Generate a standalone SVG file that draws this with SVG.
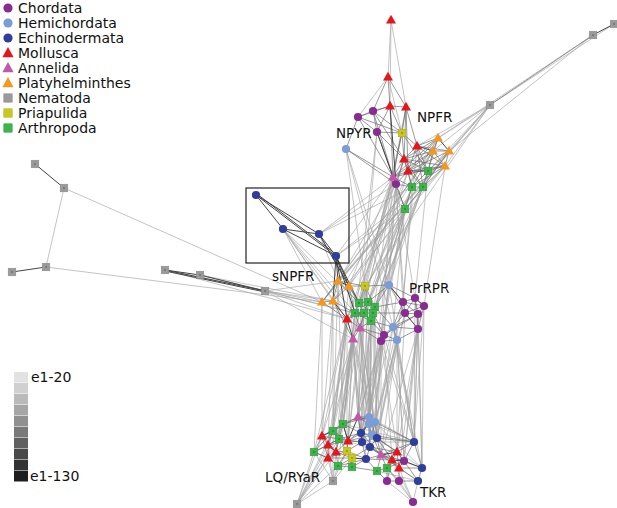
<svg xmlns="http://www.w3.org/2000/svg" xmlns:xlink="http://www.w3.org/1999/xlink" width="617" height="508" viewBox="0 0 617 508">
<style>
text{font-family:"DejaVu Sans","Liberation Sans",sans-serif;fill:#111}
.lg{font-size:14px}
.lb{font-size:13.5px}
.el{fill:none;stroke:#a2a2a2;stroke-width:0.8;stroke-opacity:0.8}
.em{fill:none;stroke:#6a6a6a;stroke-width:0.8;stroke-opacity:0.85}
.ed{fill:none;stroke:#444;stroke-width:1}
.cho{fill:#8a2b93}
.hem{fill:#7a9cd8}
.ech{fill:#2f3d9c}
.mol{fill:#e8141c}
.ann{fill:#c256a9}
.pla{fill:#f5961e}
.nem{fill:#9a9a9a;stroke:#888;stroke-width:0.5}
.pri{fill:#c9c81e;stroke:#aaa818;stroke-width:0.5}
.art{fill:#3db449;stroke:#2f9a3a;stroke-width:0.5}
</style>
<defs>
<circle id="cir" r="4.1"/>
<path id="tri" d="M0,-5.2L5,3.5L-5,3.5Z"/>
<g id="sq"><rect x="-3.8" y="-3.8" width="7.6" height="7.6"/><rect x="-0.7" y="-0.7" width="1.4" height="1.4" fill="#000" fill-opacity="0.4" stroke="none"/></g>
<circle id="ltc" r="4.6"/>
<path id="ltt" d="M0,-6L5.6,4.2L-5.6,4.2Z"/>
<rect id="lts" x="-4.2" y="-4.2" width="8.4" height="8.4"/>
</defs>
<rect width="617" height="508" fill="#fff"/>

<g id="legend">
<use href="#ltc" x="8" y="8" class="cho"/><text class="lg" x="18" y="13">Chordata</text>
<use href="#ltc" x="8" y="23" class="hem"/><text class="lg" x="18" y="28">Hemichordata</text>
<use href="#ltc" x="8" y="38" class="ech"/><text class="lg" x="18" y="43">Echinodermata</text>
<use href="#ltt" x="8" y="53" class="mol"/><text class="lg" x="18" y="58">Mollusca</text>
<use href="#ltt" x="8" y="68" class="ann"/><text class="lg" x="18" y="73">Annelida</text>
<use href="#ltt" x="8" y="83" class="pla"/><text class="lg" x="18" y="88">Platyhelminthes</text>
<use href="#lts" x="8" y="98" class="nem"/><text class="lg" x="18" y="103">Nematoda</text>
<use href="#lts" x="8" y="113" class="pri"/><text class="lg" x="18" y="118">Priapulida</text>
<use href="#lts" x="8" y="128" class="art"/><text class="lg" x="18" y="133">Arthropoda</text>
</g>

<g id="scale">
<rect x="14" y="372" width="14" height="10.5" fill="#e2e2e2"/>
<rect x="14" y="383" width="14" height="10.5" fill="#d0d0d0"/>
<rect x="14" y="394" width="14" height="10.5" fill="#bababa"/>
<rect x="14" y="405" width="14" height="10.5" fill="#a6a6a6"/>
<rect x="14" y="416" width="14" height="10.5" fill="#909090"/>
<rect x="14" y="427" width="14" height="10.5" fill="#797979"/>
<rect x="14" y="438" width="14" height="10.5" fill="#606060"/>
<rect x="14" y="449" width="14" height="10.5" fill="#494949"/>
<rect x="14" y="460" width="14" height="10.5" fill="#333"/>
<rect x="14" y="471" width="14" height="10.5" fill="#1e1e1e"/>
<text class="lg" x="31" y="382">e1-20</text>
<text class="lg" x="30" y="481">e1-130</text>
</g>

<g id="connectors">
<path class="el" d="M391 20L388 77M391 20L390 106M391 20L406 107M388 77L358 117M388 77L402 133M490 105L438 138M490 105L449 151M490 105L433 151M490 105L445 166M490 105L428 171M490 105L417 146M593 35L438 138M593 35L449 151M614 24L490 105M490 105L338 281M490 105L365 286M490 105L322 302M64 188L46 267M64 188L322 302M46 267L322 302M165 270L322 302M165 270L347 319M200 275L333 301M200 275L355 313M265 291L338 281M265 291L333 301M265 291L347 319M265 291L355 313M265 291L353 339M283 229L322 302M283 229L333 301M283 229L355 313M283 229L347 319M283 229L359 303M283 229L360 328M319 234L338 281M319 234L359 303M319 234L393 177M319 234L396 184M319 234L364 313M319 234L412 187M336 256L393 177M336 256L405 209M336 256L423 187M438 138L333 301M433 151L322 302M445 166L338 281M449 151L349 286M445 166L333 301M433 151L338 281M438 138L349 286M449 151L322 302M393 177L359 303M393 177L355 313M393 177L360 328M393 177L353 339M396 184L389 285M396 184L403 302M396 184L415 298M405 209L368 302M405 209L375 307M405 209L373 313M412 187L364 313M423 187L371 321M423 187L368 302M428 171L373 313M408 171L347 319M404 159L347 319M408 171L360 328M346 149L389 285M346 149L393 327M346 149L365 286M377 132L353 339M377 132L360 328M402 133L365 286M396 184L384 335M396 184L405 313M393 177L381 341M412 187L371 321M404 159L353 339M405 209L360 328M405 209L393 327M428 171L415 298M445 166L424 306M417 146L403 302M369 417L396 184M358 417L393 177M361 433L405 209M405 209L359 303M412 187L355 313M396 184L338 281M393 177L349 286M423 187L375 307M428 171L389 285M405 209L389 285M412 187L403 302M405 209L381 341"/>
<path class="el" d="M353 339L358 417M353 339L369 417M353 339L343 424M353 339L333 431M353 339L348 441M353 339L361 433M353 339L322 436M353 339L339 439M360 328L358 417M360 328L375 422M360 328L377 438M360 328L343 424M360 328L348 441M347 319L333 431M347 319L322 436M347 319L314 452M347 319L328 445M355 313L343 424M355 313L336 452M371 321L361 433M371 321L369 424M371 321L370 447M381 341L358 417M381 341L369 417M381 341L375 422M381 341L377 438M381 341L381 455M381 341L414 442M381 341L397 452M384 335L369 417M384 335L372 435M384 335L414 442M384 335L392 460M384 335L362 442M397 340L375 422M397 340L377 438M397 340L414 442M397 340L381 455M397 340L397 452M397 340L404 461M393 327L414 442M393 327L422 468M393 327L369 417M418 329L414 442M418 329L422 468M418 329L404 461M418 329L399 468M418 329L381 455M418 314L414 442M418 314L422 468M424 306L414 442M405 313L377 438M405 313L397 452M403 302L375 422M322 302L314 452M322 302L322 436M333 301L333 431M333 301L328 445M338 281L343 424M349 286L358 417M365 286L369 417M368 302L361 433M364 313L358 417M373 313L369 424M375 307L377 438M389 285L375 422M389 285L414 442M353 339L347 451M353 339L338 466M360 328L366 459M347 319L328 458M347 319L347 451M359 303L343 424M368 302L369 424M375 307L372 435M373 313L362 442M364 313L348 441M355 313L339 439M333 301L322 436M338 281L333 431M365 286L358 417M389 285L369 417M403 302L377 438M415 298L414 442M405 313L372 435M384 335L358 417M381 341L361 433M393 327L377 438M397 340L404 461M353 339L375 422M353 339L362 442M360 328L369 417M360 328L370 447M347 319L339 439M347 319L336 452M371 321L358 417M371 321L369 417M418 314L404 461M418 329L397 452M424 306L422 468M353 339L328 445M353 339L336 452M349 286L333 431M364 313L361 433M373 313L377 438"/>
<path class="el" d="M333 481L314 452M333 481L328 445M333 481L338 466M333 481L328 458M333 481L333 431M333 481L336 452M333 481L352 458M297 504L314 452M297 504L322 436M297 504L328 445M297 504L328 458M297 504L338 466M297 504L333 431M297 504L336 452M297 504L333 481M297 504L339 439M413 502L387 481M413 502L399 481M413 502L399 468M413 502L418 481M413 502L387 468M414 442L369 417M414 442L358 417M422 468L377 438M418 481L377 471M414 442L362 442M422 468L369 417M418 481L381 455M414 442L343 424M422 468L348 441M413 502L392 460M297 504L343 424M333 481L347 451"/>
<path class="em" d="M388 77L390 106M388 77L406 107M388 77L373 111M390 106L406 107M390 106L358 117M390 106L373 111M390 106L377 132M390 106L402 133M390 106L393 177M406 107L402 133M406 107L417 146M406 107L404 159M406 107L408 171M406 107L393 177M358 117L373 111M358 117L377 132M358 117L346 149M358 117L393 177M358 117L402 133M373 111L377 132M373 111L402 133M373 111L393 177M373 111L404 159M377 132L402 133M377 132L396 184M377 132L404 159M346 149L393 177M346 149L396 184M402 133L417 146M402 133L404 159M402 133L393 177M402 133L428 171M417 146L404 159M417 146L408 171M417 146L438 138M417 146L428 171M417 146L449 151M417 146L445 166M404 159L408 171M404 159L393 177M404 159L396 184M404 159L428 171M404 159L412 187M404 159L423 187M404 159L433 151M408 171L393 177M408 171L396 184M408 171L412 187M408 171L423 187M408 171L445 166M408 171L433 151M393 177L412 187M393 177L405 209M396 184L412 187M396 184L405 209M412 187L423 187M428 171L423 187M412 187L405 209M423 187L405 209M438 138L433 151M433 151L449 151M433 151L445 166M449 151L445 166M438 138L428 171M433 151L428 171M445 166L428 171M445 166L423 187M449 151L428 171M438 138L404 159M449 151L408 171M445 166L404 159M428 171L412 187M417 146L423 187M438 138L393 177M433 151L393 177M445 166L393 177M445 166L412 187M438 138L408 171M449 151L423 187M433 151L412 187M593 35L490 105"/>
<path class="em" d="M338 281L333 301M349 286L333 301M322 302L333 301M338 281L365 286M349 286L365 286M349 286L359 303M333 301L355 313M322 302L347 319M338 281L359 303M365 286L359 303M365 286L368 302M365 286L389 285M359 303L368 302M368 302L375 307M359 303L355 313M368 302L364 313M375 307L373 313M355 313L364 313M364 313L373 313M373 313L371 321M364 313L371 321M355 313L347 319M347 319L360 328M360 328L353 339M371 321L360 328M364 313L360 328M389 285L415 298M389 285L375 307M389 285L368 302M403 302L415 298M415 298L424 306M403 302L405 313M424 306L418 314M405 313L418 314M418 314L418 329M418 329L393 327M393 327L384 335M384 335L381 341M381 341L397 340M393 327L397 340M405 313L393 327M403 302L424 306M418 314L384 335M375 307L403 302M373 313L405 313M371 321L384 335M371 321L393 327M360 328L384 335M360 328L381 341M415 298L405 313M418 329L397 340M403 302L393 327M349 286L355 313M365 286L375 307M359 303L373 313M375 307L371 321M355 313L371 321M347 319L364 313M333 301L353 339M415 298L418 314M424 306L405 313M381 341L393 327M384 335L397 340M418 314L393 327M373 313L384 335M375 307L393 327M424 306L418 329M322 302L338 281M359 303L364 313M368 302L373 313M355 313L360 328M389 285L403 302M389 285L405 313M403 302L418 314M415 298L418 329"/>
<path class="em" d="M322 436L328 445M322 436L314 452M322 436L336 452M328 445L336 452M328 445L328 458M328 445L314 452M328 445L339 439M336 452L328 458M336 452L347 451M336 452L338 466M328 458L338 466M328 458L314 452M333 431L343 424M333 431L339 439M343 424L339 439M343 424L358 417M343 424L348 441M339 439L348 441M348 441L347 451M348 441L361 433M348 441L362 442M347 451L352 458M347 451L352 467M352 458L352 467M352 458L338 466M338 466L352 467M352 467L366 459M358 417L369 417M358 417L369 424M358 417L361 433M369 417L375 422M369 417L369 424M375 422L369 424M369 424L372 435M372 435L361 433M372 435L377 438M362 442L370 447M370 447L366 459M377 438L370 447M377 438L381 455M381 455L392 460M381 455L377 471M381 455L387 468M397 452L392 460M392 460L399 468M397 452L399 468M397 452L404 461M404 461L399 468M392 460L387 468M377 471L387 468M387 468L387 481M387 468L399 481M387 481L399 481M399 468L399 481M414 442L397 452M414 442L377 438M414 442L375 422M414 442L404 461M422 468L399 468M422 468L418 481M418 481L399 481M418 481L399 468M333 431L358 417M343 424L369 417M328 445L333 431M339 439L347 451M347 451L362 442M362 442L381 455M366 459L377 471M366 459L381 455M370 447L381 455M377 438L375 422M372 435L381 455M322 436L339 439M336 452L339 439M328 458L352 458M314 452L333 431M348 441L372 435M338 466L347 451M348 441L369 424M361 433L369 424M358 417L362 442M339 439L361 433M336 452L348 441M352 458L366 459M352 467L377 471M366 459L392 460M381 455L404 461M370 447L397 452M372 435L397 452M362 442L366 459M328 458L347 451M414 442L422 468M414 442L381 455M418 481L404 461M387 481L392 460M377 471L387 481M358 417L375 422M375 422L372 435M377 438L397 452M369 424L370 447M322 436L343 424M314 452L339 439M328 445L348 441M333 431L348 441M343 424L361 433M339 439L362 442M347 451L366 459M352 458L370 447M361 433L377 438M362 442L377 438M369 417L377 438M370 447L392 460M377 438L392 460M381 455L399 468M387 468L404 461M372 435L414 442M361 433L381 455M314 452L328 458M322 436L328 458M336 452L352 458M338 466L366 459"/>
<path class="ed" d="M256 195L283 229M256 195L319 234M256 195L336 256M257 194L337 255M283 229L319 234M283 229L336 256M319 234L336 256M35 164L64 188M46 267L12 272M165 270L200 275M165 270L265 291M165 271L265 292M200 275L265 291M614 24L593 35M336 256L338 281M336 256L349 286M336 256L359 303M336 256L355 313M336 256L347 319M336 256L333 301M319 234L349 286M390 106L396 184M393 177L396 184M377 132L393 177M347 319L353 339M333 301L347 319M322 436L333 431M348 441L358 417M361 433L362 442M404 461L422 468M381 455L397 452M338 281L349 286M389 285L403 302M405 313L418 329M417 146L433 151M438 138L449 151M408 171L428 171M343 424L348 441M328 445L336 452M352 458L366 459M369 424L361 433M392 460L404 461M381 341L384 335M364 313L355 313M415 298L424 306"/>
</g>

<rect id="box" x="246" y="188" width="103" height="75" fill="none" stroke="#222" stroke-width="1.2"/>

<g id="labels">
<text class="lb" x="336" y="138">NPYR</text>
<text class="lb" x="417" y="122">NPFR</text>
<text class="lb" x="272" y="281">sNPFR</text>
<text class="lb" x="409" y="293">PrRPR</text>
<text class="lb" x="265" y="482">LQ/RYaR</text>
<text class="lb" x="420" y="497">TKR</text>
</g>

<g id="nodes">
<g id="m1" class="mol"><use href="#tri" x="391" y="20"/></g>
<g id="m2" class="mol"><use href="#tri" x="388" y="77"/></g>
<g id="m3" class="mol"><use href="#tri" x="390" y="106"/></g>
<g id="m4" class="mol"><use href="#tri" x="406" y="107"/></g>
<g id="m5" class="mol"><use href="#tri" x="417" y="146"/></g>
<g id="m6" class="mol"><use href="#tri" x="404" y="159"/></g>
<g id="m7" class="mol"><use href="#tri" x="408" y="171"/></g>
<g id="c1" class="cho"><use href="#cir" x="358" y="117"/></g>
<g id="c2" class="cho"><use href="#cir" x="373" y="111"/></g>
<g id="c3" class="cho"><use href="#cir" x="377" y="132"/></g>
<g id="c4" class="cho"><use href="#cir" x="396" y="184"/></g>
<g id="h1" class="hem"><use href="#cir" x="346" y="149"/></g>
<g id="y1" class="pri"><use href="#sq" x="402" y="133"/></g>
<g id="o1" class="pla"><use href="#tri" x="438" y="138"/></g>
<g id="o2" class="pla"><use href="#tri" x="433" y="151"/></g>
<g id="o3" class="pla"><use href="#tri" x="449" y="151"/></g>
<g id="o4" class="pla"><use href="#tri" x="445" y="166"/></g>
<g id="a1" class="ann"><use href="#tri" x="393" y="177"/></g>
<g id="g1" class="art"><use href="#sq" x="428" y="171"/></g>
<g id="g2" class="art"><use href="#sq" x="412" y="187"/></g>
<g id="g3" class="art"><use href="#sq" x="423" y="187"/></g>
<g id="g4" class="art"><use href="#sq" x="405" y="209"/></g>
<g id="n1" class="nem"><use href="#sq" x="614" y="24"/></g>
<g id="n2" class="nem"><use href="#sq" x="593" y="35"/></g>
<g id="n3" class="nem"><use href="#sq" x="490" y="105"/></g>
<g id="n4" class="nem"><use href="#sq" x="35" y="164"/></g>
<g id="n5" class="nem"><use href="#sq" x="64" y="188"/></g>
<g id="n6" class="nem"><use href="#sq" x="46" y="267"/></g>
<g id="n7" class="nem"><use href="#sq" x="12" y="272"/></g>
<g id="n8" class="nem"><use href="#sq" x="165" y="270"/></g>
<g id="n9" class="nem"><use href="#sq" x="200" y="275"/></g>
<g id="n10" class="nem"><use href="#sq" x="265" y="291"/></g>
<g id="e1" class="ech"><use href="#cir" x="256" y="195"/></g>
<g id="e2" class="ech"><use href="#cir" x="283" y="229"/></g>
<g id="e3" class="ech"><use href="#cir" x="319" y="234"/></g>
<g id="e4" class="ech"><use href="#cir" x="336" y="256"/></g>
<g id="o5" class="pla"><use href="#tri" x="338" y="281"/></g>
<g id="o6" class="pla"><use href="#tri" x="349" y="286"/></g>
<g id="o7" class="pla"><use href="#tri" x="322" y="302"/></g>
<g id="o8" class="pla"><use href="#tri" x="333" y="301"/></g>
<g id="y2" class="pri"><use href="#sq" x="365" y="286"/></g>
<g id="h2" class="hem"><use href="#cir" x="389" y="285"/></g>
<g id="g5" class="art"><use href="#sq" x="359" y="303"/></g>
<g id="g6" class="art"><use href="#sq" x="368" y="302"/></g>
<g id="g7" class="art"><use href="#sq" x="375" y="307"/></g>
<g id="g8" class="art"><use href="#sq" x="355" y="313"/></g>
<g id="g9" class="art"><use href="#sq" x="364" y="313"/></g>
<g id="g10" class="art"><use href="#sq" x="373" y="313"/></g>
<g id="g11" class="art"><use href="#sq" x="371" y="321"/></g>
<g id="m8" class="mol"><use href="#tri" x="347" y="319"/></g>
<g id="a2" class="ann"><use href="#tri" x="360" y="328"/></g>
<g id="a3" class="ann"><use href="#tri" x="353" y="339"/></g>
<g id="c5" class="cho"><use href="#cir" x="403" y="302"/></g>
<g id="c6" class="cho"><use href="#cir" x="415" y="298"/></g>
<g id="c7" class="cho"><use href="#cir" x="424" y="306"/></g>
<g id="c8" class="cho"><use href="#cir" x="405" y="313"/></g>
<g id="c9" class="cho"><use href="#cir" x="418" y="314"/></g>
<g id="c10" class="cho"><use href="#cir" x="418" y="329"/></g>
<g id="c11" class="cho"><use href="#cir" x="384" y="335"/></g>
<g id="c12" class="cho"><use href="#cir" x="381" y="341"/></g>
<g id="h3" class="hem"><use href="#cir" x="393" y="327"/></g>
<g id="h4" class="hem"><use href="#cir" x="397" y="340"/></g>
<g id="g12" class="art"><use href="#sq" x="314" y="452"/></g>
<g id="g13" class="art"><use href="#sq" x="333" y="431"/></g>
<g id="g14" class="art"><use href="#sq" x="343" y="424"/></g>
<g id="g15" class="art"><use href="#sq" x="339" y="439"/></g>
<g id="g16" class="art"><use href="#sq" x="338" y="466"/></g>
<g id="g17" class="art"><use href="#sq" x="352" y="467"/></g>
<g id="g18" class="art"><use href="#sq" x="377" y="471"/></g>
<g id="g19" class="art"><use href="#sq" x="387" y="468"/></g>
<g id="y3" class="pri"><use href="#sq" x="347" y="451"/></g>
<g id="y4" class="pri"><use href="#sq" x="352" y="458"/></g>
<g id="m9" class="mol"><use href="#tri" x="322" y="436"/></g>
<g id="m10" class="mol"><use href="#tri" x="328" y="445"/></g>
<g id="m11" class="mol"><use href="#tri" x="336" y="452"/></g>
<g id="m12" class="mol"><use href="#tri" x="328" y="458"/></g>
<g id="m13" class="mol"><use href="#tri" x="348" y="441"/></g>
<g id="m14" class="mol"><use href="#tri" x="397" y="452"/></g>
<g id="m15" class="mol"><use href="#tri" x="392" y="460"/></g>
<g id="m16" class="mol"><use href="#tri" x="399" y="468"/></g>
<g id="a4" class="ann"><use href="#tri" x="358" y="417"/></g>
<g id="a5" class="ann"><use href="#tri" x="381" y="455"/></g>
<g id="h5" class="hem"><use href="#cir" x="369" y="417"/></g>
<g id="h6" class="hem"><use href="#cir" x="375" y="422"/></g>
<g id="h7" class="hem"><use href="#cir" x="369" y="424"/></g>
<g id="h8" class="hem"><use href="#cir" x="372" y="435"/></g>
<g id="e5" class="ech"><use href="#cir" x="361" y="433"/></g>
<g id="e6" class="ech"><use href="#cir" x="362" y="442"/></g>
<g id="e7" class="ech"><use href="#cir" x="377" y="438"/></g>
<g id="e8" class="ech"><use href="#cir" x="370" y="447"/></g>
<g id="e9" class="ech"><use href="#cir" x="366" y="459"/></g>
<g id="e10" class="ech"><use href="#cir" x="414" y="442"/></g>
<g id="e11" class="ech"><use href="#cir" x="422" y="468"/></g>
<g id="e12" class="ech"><use href="#cir" x="418" y="481"/></g>
<g id="c13" class="cho"><use href="#cir" x="404" y="461"/></g>
<g id="c14" class="cho"><use href="#cir" x="387" y="481"/></g>
<g id="c15" class="cho"><use href="#cir" x="399" y="481"/></g>
<g id="c16" class="cho"><use href="#cir" x="413" y="502"/></g>
<g id="n11" class="nem"><use href="#sq" x="333" y="481"/></g>
<g id="n12" class="nem"><use href="#sq" x="297" y="504"/></g>
</g>
</svg>
